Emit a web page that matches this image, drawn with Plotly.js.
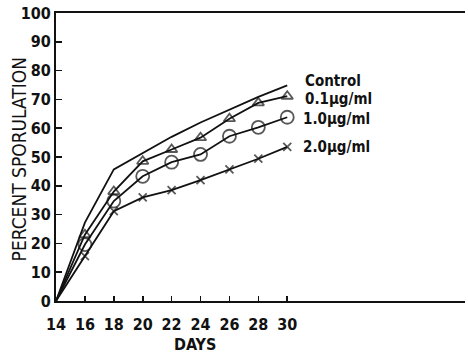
<!DOCTYPE html>
<html><head><meta charset="utf-8">
<script src="https://cdn.plot.ly/plotly-3.0.1.min.js"></script>
<style>html,body{margin:0;padding:0;background:#fff;}#c{width:468px;height:356px;}</style>
</head><body><div id="c"></div>
<script>
const days = [14, 16, 18, 20, 22, 24, 26, 28, 30];
const control = [0, 27.2, 45.7, 51.2, 57, 62, 66.5, 70.9, 74.9];
const dose01 = [0, 23, 38, 48.5, 52.6, 56.7, 63.3, 68.8, 71.1];
const dose10 = [0, 19.6, 34.7, 43.3, 48.2, 50.9, 57.2, 60.3, 63.8];
const dose20 = [0, 15.6, 31.2, 36, 38.5, 42, 45.7, 49.4, 53.5];
const seriesLabels = ["Control", "0.1\u00b5g/ml", "1.0\u00b5g/ml", "2.0\u00b5g/ml"];
const xTicks = [14, 16, 18, 20, 22, 24, 26, 28, 30];
const yTicks = [0, 10, 20, 30, 40, 50, 60, 70, 80, 90, 100];

const fam = "DejaVu Sans Condensed, DejaVu Sans, sans-serif";
const font = {family: fam, color: "#111"};
const bold = s => ({family: fam, color: "#111", size: s, weight: "bold"});
const sz = s => days.map(d => d === 14 ? 0 : s);
const ln = {color: "#111", width: 1.8};
const traces = [
  {x: days, y: control, mode: "lines", line: ln, name: seriesLabels[0]},
  {x: days, y: dose01, mode: "lines+markers", line: ln, name: seriesLabels[1],
   marker: {symbol: "triangle-up-open", size: sz(10), color: "#111", line: {width: 1.8, color: "#111"}}},
  {x: days, y: dose10, mode: "lines+markers", line: ln, name: seriesLabels[2],
   marker: {symbol: "circle-open", size: sz(13), color: "#111", line: {width: 1.8, color: "#111"}}},
  {x: days, y: dose20, mode: "lines+markers", line: ln, name: seriesLabels[3],
   marker: {symbol: "x-thin-open", size: sz(8), color: "#111", line: {width: 1.8, color: "#111"}}}
];
const labelPos = [[31.1, 76.3], [31.1, 70.0], [30.95, 63.3], [30.95, 53.6]];
const annotations = seriesLabels.map((t, i) => ({
  x: labelPos[i][0], y: labelPos[i][1], xref: "x", yref: "y", text: t,
  showarrow: false, xanchor: "left", yanchor: "middle",
  font: bold(15)
}));
annotations.push({
  x: 23.6, y: -43.5 / 288, xref: "x", yref: "paper", text: "DAYS",
  showarrow: false, xanchor: "center", yanchor: "middle", font: bold(16)
});
annotations.push({
  x: (18.5 - 56) / 409, y: 0.49, xref: "paper", yref: "paper", text: "PERCENT SPORULATION",
  textangle: -90, showarrow: false, xanchor: "center", yanchor: "middle",
  font: {family: fam, color: "#111", size: 19}
});
const layout = {
  width: 468, height: 356,
  margin: {l: 56, r: 3, t: 13, b: 55},
  paper_bgcolor: "#fff", plot_bgcolor: "#fff",
  showlegend: false,
  font: font,
  xaxis: {
    range: [14, 42.3], tickvals: xTicks, ticktext: xTicks.map(String),
    ticks: "inside", ticklen: 5, tickwidth: 1.6, tickcolor: "#111",
    showline: true, linecolor: "#111", linewidth: 2, mirror: true,
    showgrid: false, zeroline: false,
    ticklabelstandoff: 8,
    tickfont: bold(16)
  },
  yaxis: {
    range: [0, 100], tickvals: yTicks, ticktext: yTicks.map(String),
    ticks: "inside", ticklen: 6, tickwidth: 1.6, tickcolor: "#111",
    showline: true, linecolor: "#111", linewidth: 2,
    showgrid: false, zeroline: false,
    tickfont: bold(16)
  },
  annotations: annotations
};
Plotly.newPlot("c", traces, layout, {staticPlot: true, displayModeBar: false});
</script></body></html>
